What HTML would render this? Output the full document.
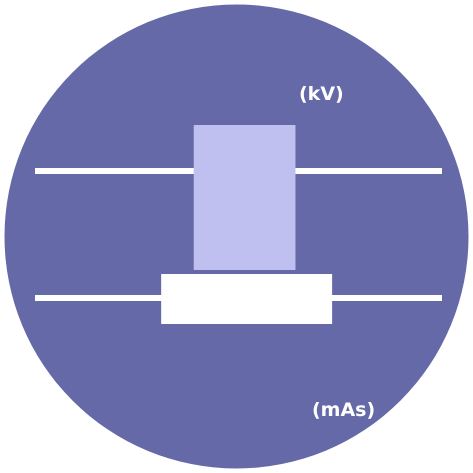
<!DOCTYPE html>
<html><head><meta charset="utf-8"><style>
html,body{margin:0;padding:0;background:#fff;width:473px;height:473px;overflow:hidden}
svg{display:block}
text{font-family:"DejaVu Sans","Liberation Sans",sans-serif;font-weight:bold;font-size:19px;fill:#fff}
</style></head><body>
<svg id="chart" width="473" height="473">
<circle cx="236.5" cy="236.5" r="232" fill="#6569a8"/>
<text x="299" y="100">(kV)</text>
<text x="312" y="416">(mAs)</text>
</svg>
<script>
const series = ["kV", "mAs"];
const whiskerLow = [0, 0];
const whiskerHigh = [100, 100];
const boxLow = [39, 31];
const boxHigh = [64, 73];
const boxColors = ["#bfbff0", "#ffffff"];
const boxTop = [125, 274];
const boxBottom = [270, 324];
const lineY = [171, 298];
const xScale = v => 35 + v * (442 - 35) / 100;
const svg = document.getElementById('chart');
const ns = 'http://www.w3.org/2000/svg';
series.forEach((s, i) => {
  const ln = document.createElementNS(ns, 'rect');
  ln.setAttribute('x', xScale(whiskerLow[i]));
  ln.setAttribute('y', lineY[i] - 3);
  ln.setAttribute('width', xScale(whiskerHigh[i]) - xScale(whiskerLow[i]));
  ln.setAttribute('height', 6);
  ln.setAttribute('fill', '#fff');
  
  
  svg.appendChild(ln);
  const b = document.createElementNS(ns, 'rect');
  b.setAttribute('x', xScale(boxLow[i]));
  b.setAttribute('y', boxTop[i]);
  b.setAttribute('width', xScale(boxHigh[i]) - xScale(boxLow[i]));
  b.setAttribute('height', boxBottom[i] - boxTop[i]);
  b.setAttribute('fill', boxColors[i]);
  
  
  svg.appendChild(b);
});
</script>
</body></html>
